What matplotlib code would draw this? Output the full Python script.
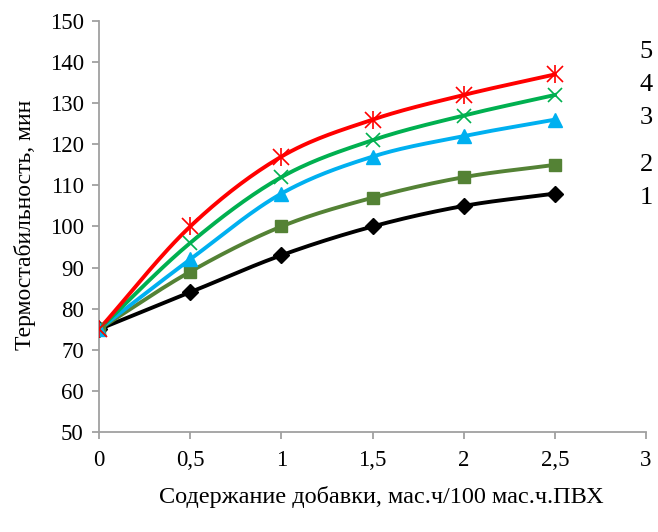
import numpy as np
import matplotlib
matplotlib.use("Agg")
import matplotlib.pyplot as plt

x = [0, 0.5, 1, 1.5, 2, 2.5]
s1 = [75, 84, 93, 100, 105, 108]
s2 = [75, 89, 100, 107, 112, 115]
s3 = [75, 92, 108, 117, 122, 126]
s4 = [75, 96, 112, 121, 127, 132]
s5 = [75, 100, 117, 126, 132, 137]
series_labels = ["1", "2", "3", "4", "5"]
label_y = [106.9, 115.0, 126.4, 134.4, 142.5]
xticks = [0, 0.5, 1, 1.5, 2, 2.5, 3]
xticklabels = ["0", "0,5", "1", "1,5", "2", "2,5", "3"]
yticks = list(range(50, 151, 10))

plt.rcParams['font.family'] = ['Liberation Serif', 'DejaVu Serif']


def smooth(xs, ys, n=30):
    xs = np.asarray(xs, float); ys = np.asarray(ys, float)
    P = np.column_stack([xs, ys])
    Pext = np.vstack([P[0] - (P[1] - P[0]), P, P[-1] + (P[-1] - P[-2])])
    out = []
    for i in range(1, len(Pext) - 2):
        p0, p1, p2, p3 = Pext[i - 1], Pext[i], Pext[i + 1], Pext[i + 2]
        t = np.linspace(0, 1, n)[:, None]
        c = 0.5 * ((2 * p1) + (-p0 + p2) * t + (2 * p0 - 5 * p1 + 4 * p2 - p3) * t**2
                   + (-p0 + 3 * p1 - 3 * p2 + p3) * t**3)
        out.append(c if i == 1 else c[1:])
    c = np.vstack(out)
    return c[:, 0], c[:, 1]


fig = plt.figure(figsize=(6.58, 5.32), dpi=100)
ax = fig.add_axes([0.1505, 0.188, 0.8313, 0.7725])

styles = [
    (s1, "#000000", dict(marker="D", ms=8)),
    (s2, "#548235", dict(marker="s", ms=9)),
    (s3, "#00B0F0", dict(marker="^", ms=10.5)),
    (s4, "#00B050", dict(marker="x", ms=10.5, mew=1.2)),
    (s5, "#FF0000", dict(marker="x", ms=11, mew=1.2)),
]
for ys, col, mk in styles:
    sx, sy = smooth(x, ys)
    ax.plot(sx, sy, color=col, lw=2.8, zorder=2)
    ax.plot(x, ys, ls="none", color=col, mec=col, mfc=col, zorder=3, **mk)
ax.plot(x, s5, ls="none", marker="|", ms=13, mew=1.2, color="#FF0000", zorder=3)

ax.set_xlim(0, 3)
ax.set_ylim(50, 150)
ax.set_xticks(xticks)
ax.set_xticklabels(xticklabels)
ax.set_yticks(yticks)
for sp in ["top", "right"]:
    ax.spines[sp].set_visible(False)
for sp in ["left", "bottom"]:
    ax.spines[sp].set_color("#A0A0A0")
    ax.spines[sp].set_linewidth(1.3)
ax.tick_params(axis="both", direction="out", color="#A0A0A0", width=1.3, length=5,
               labelsize=16.5)
ax.tick_params(axis="x", pad=8)
ax.tick_params(axis="y", pad=6)
fig.text(25 / 658, 1 - 225 / 532, "Термостабильность, мин", rotation=90,
         ha="center", va="center", fontsize=17)
fig.text(381 / 658, 1 - 497 / 532, "Содержание добавки, мас.ч/100 мас.ч.ПВХ",
         ha="center", va="center", fontsize=17.5)

for lab, yy in zip(series_labels, label_y):
    ax.text(3.0, yy, lab, fontsize=19, ha="center", va="center", clip_on=False,
            transform=ax.transData)

fig.savefig("out.png", dpi=100)
